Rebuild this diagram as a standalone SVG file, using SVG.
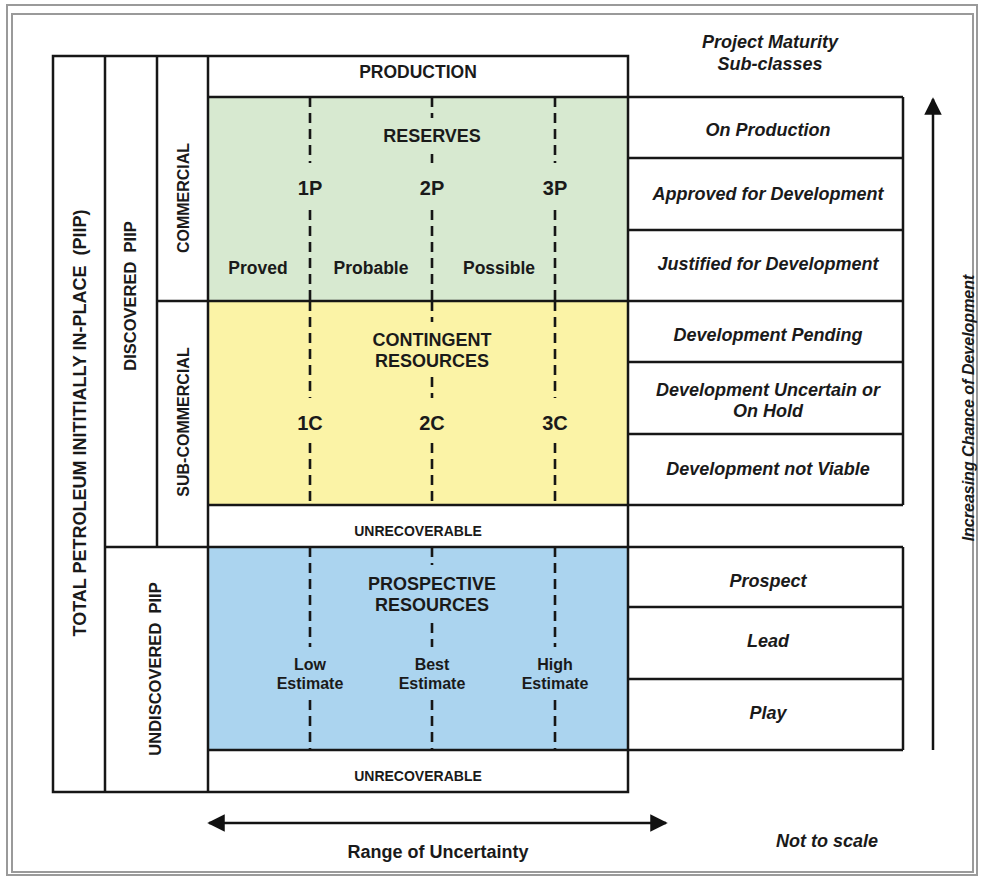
<svg xmlns="http://www.w3.org/2000/svg" width="984" height="879" viewBox="0 0 984 879">
<defs>
<style>
.ln{stroke:#161616;stroke-width:2.5;fill:none}
.frame{stroke:#9a9a9a;stroke-width:2;fill:none}
.dash{stroke:#161616;stroke-width:2.6;stroke-dasharray:10 6;fill:none}
.t{font-family:"Liberation Sans",Arial,sans-serif;font-weight:bold;fill:#1a1a1a;text-anchor:middle}
.i{font-style:italic}
</style>
<marker id="ah" viewBox="0 0 10 10" refX="9" refY="5" markerWidth="7" markerHeight="7" markerUnits="strokeWidth" orient="auto-start-reverse">
<path d="M0,0 L10,5 L0,10 z" fill="#111"/>
</marker>
</defs>
<rect x="0" y="0" width="984" height="879" fill="#fff"/>
<g id="frame">
<rect class="frame" x="7" y="5" width="970" height="870"/>
<rect class="frame" x="12" y="14" width="961" height="858"/>
</g>
<g id="fills">
<rect x="208" y="97" width="420" height="204" fill="#d7e9d0"/>
<rect x="208" y="301" width="420" height="204" fill="#fbf3a6"/>
<rect x="208" y="547" width="420" height="203" fill="#abd4ef"/>
</g>
<g id="grid">
<rect class="ln" x="53" y="56" width="575" height="736"/>
<line class="ln" x1="105" y1="56" x2="105" y2="792"/>
<line class="ln" x1="157" y1="56" x2="157" y2="547"/>
<line class="ln" x1="208" y1="56" x2="208" y2="792"/>
<line class="ln" x1="208" y1="97" x2="903" y2="97"/>
<line class="ln" x1="157" y1="301" x2="903" y2="301"/>
<line class="ln" x1="208" y1="505" x2="903" y2="505"/>
<line class="ln" x1="105" y1="547" x2="903" y2="547"/>
<line class="ln" x1="208" y1="750" x2="903" y2="750"/>
<line class="ln" x1="903" y1="97" x2="903" y2="505"/>
<line class="ln" x1="903" y1="547" x2="903" y2="750"/>
<line class="ln" x1="628" y1="158" x2="903" y2="158"/>
<line class="ln" x1="628" y1="230" x2="903" y2="230"/>
<line class="ln" x1="628" y1="362" x2="903" y2="362"/>
<line class="ln" x1="628" y1="434" x2="903" y2="434"/>
<line class="ln" x1="628" y1="607" x2="903" y2="607"/>
<line class="ln" x1="628" y1="679" x2="903" y2="679"/>
</g>
<g id="connectors">
<path class="dash" d="M310,97V163 M310,210V301 M555,97V163 M555,210V301 M432,97V118 M432,154V163 M432,210V301"/>
<path class="dash" d="M310,301V398 M310,443V505 M555,301V398 M555,443V505 M432,301V322 M432,377V398 M432,443V505"/>
<path class="dash" d="M310,547V647 M310,700V750 M555,547V647 M555,700V750 M432,547V565 M432,623V647 M432,700V750"/>
<line x1="209" y1="823" x2="666" y2="823" stroke="#111" stroke-width="2.5" marker-start="url(#ah)" marker-end="url(#ah)"/>
<line x1="933" y1="750" x2="933" y2="99" stroke="#111" stroke-width="2.5" marker-end="url(#ah)"/>
</g>
<g id="total-piip"><text class="t" font-size="18" transform="translate(85.5,423) rotate(-90)" xml:space="preserve">TOTAL PETROLEUM INITITIALLY IN-PLACE  (PIIP)</text></g>
<g id="discovered-piip"><text class="t" font-size="16.5" transform="translate(136,296) rotate(-90)" xml:space="preserve">DISCOVERED  PIIP</text></g>
<g id="commercial"><text class="t" font-size="16" transform="translate(189,198) rotate(-90)">COMMERCIAL</text></g>
<g id="sub-commercial"><text class="t" font-size="16" transform="translate(189,422) rotate(-90)">SUB-COMMERCIAL</text></g>
<g id="undiscovered-piip"><text class="t" font-size="16.5" transform="translate(161,669) rotate(-90)" xml:space="preserve">UNDISCOVERED  PIIP</text></g>
<g id="production"><text class="t" font-size="17.5" x="418" y="78">PRODUCTION</text></g>
<g id="reserves">
<text class="t" font-size="18" x="432" y="141.5">RESERVES</text>
<text class="t" font-size="20" x="310" y="195">1P</text>
<text class="t" font-size="20" x="432" y="195">2P</text>
<text class="t" font-size="20" x="555" y="195">3P</text>
<text class="t" font-size="17.5" x="258" y="274">Proved</text>
<text class="t" font-size="17.5" x="371" y="274">Probable</text>
<text class="t" font-size="17.5" x="499" y="274">Possible</text>
</g>
<g id="contingent">
<text class="t" font-size="18" x="432" y="345.5">CONTINGENT</text>
<text class="t" font-size="18" x="432" y="366.5">RESOURCES</text>
<text class="t" font-size="20" x="310" y="430">1C</text>
<text class="t" font-size="20" x="432" y="430">2C</text>
<text class="t" font-size="20" x="555" y="430">3C</text>
</g>
<g id="unrecoverable-1"><text class="t" font-size="14" x="418" y="536">UNRECOVERABLE</text></g>
<g id="prospective">
<text class="t" font-size="18" x="432" y="589.5">PROSPECTIVE</text>
<text class="t" font-size="18" x="432" y="610.5">RESOURCES</text>
<text class="t" font-size="16" x="310" y="670">Low</text>
<text class="t" font-size="16" x="310" y="689">Estimate</text>
<text class="t" font-size="16" x="432" y="670">Best</text>
<text class="t" font-size="16" x="432" y="689">Estimate</text>
<text class="t" font-size="16" x="555" y="670">High</text>
<text class="t" font-size="16" x="555" y="689">Estimate</text>
</g>
<g id="unrecoverable-2"><text class="t" font-size="14" x="418" y="781">UNRECOVERABLE</text></g>
<g id="subclasses">
<text class="t i" font-size="18" x="770" y="48">Project Maturity</text>
<text class="t i" font-size="18" x="770" y="69.5">Sub-classes</text>
<text class="t i" font-size="18" x="768" y="135.5">On Production</text>
<text class="t i" font-size="18" x="768" y="199.5">Approved for Development</text>
<text class="t i" font-size="18" x="768" y="269.5">Justified for Development</text>
<text class="t i" font-size="18" x="768" y="340.5">Development Pending</text>
<text class="t i" font-size="18" x="768" y="395.5">Development Uncertain or</text>
<text class="t i" font-size="18" x="768" y="417">On Hold</text>
<text class="t i" font-size="18" x="768" y="474.5">Development not Viable</text>
<text class="t i" font-size="18" x="768" y="587">Prospect</text>
<text class="t i" font-size="18" x="768" y="646.5">Lead</text>
<text class="t i" font-size="18" x="768" y="719">Play</text>
</g>
<g id="chance"><text class="t i" font-size="16" transform="translate(974,408) rotate(-90)">Increasing Chance of Development</text></g>
<g id="uncertainty"><text class="t" font-size="18" x="438" y="858">Range of Uncertainty</text></g>
<g id="scale"><text class="t i" font-size="18" x="827" y="846.5">Not to scale</text></g>
</svg>
